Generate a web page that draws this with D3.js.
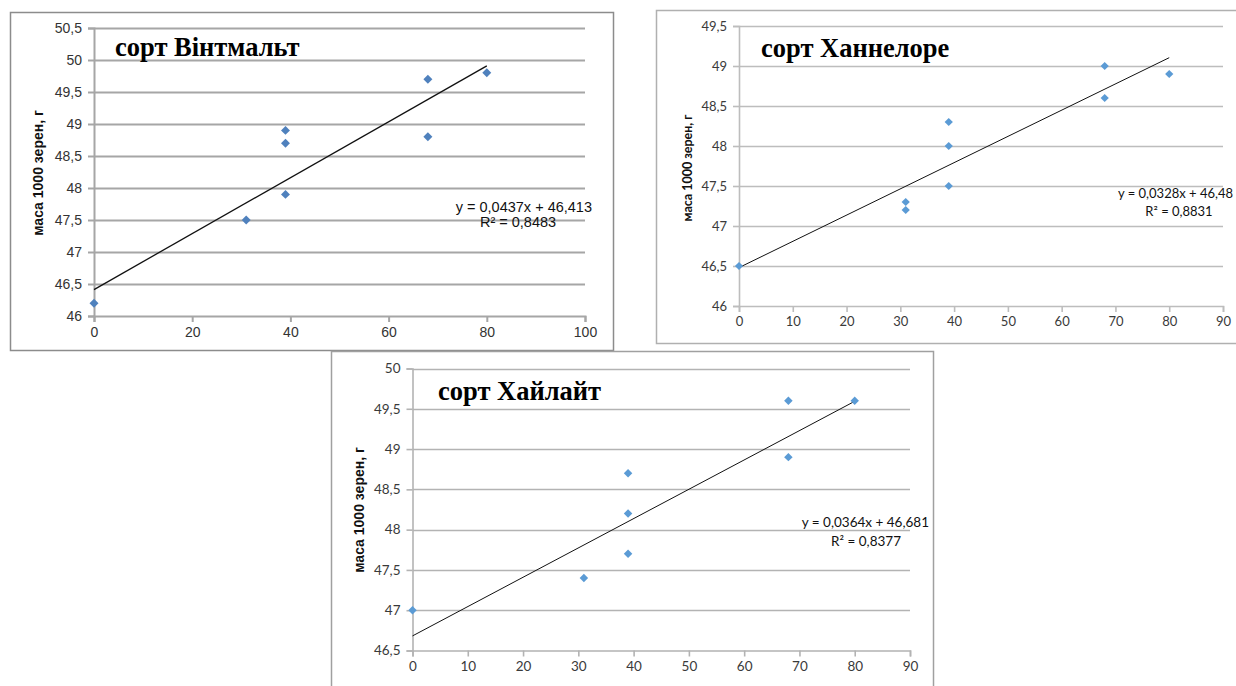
<!DOCTYPE html>
<html>
<head>
<meta charset="utf-8">
<script src="https://cdn.jsdelivr.net/npm/d3@7"></script>
<style>
  html, body { margin: 0; padding: 0; background: #fff; overflow: hidden; }
  svg { display: block; }
</style>
</head>
<body>
<svg id="chart" width="1236" height="686"></svg>
<script>
// ---- Data ----
const titles = ["сорт Вінтмальт", "сорт Ханнелоре", "сорт Хайлайт"];
const yAxisLabel = "маса 1000 зерен, г";

const xValues1 = [0, 31, 39, 39, 39, 68, 68, 80];
const yValues1 = [46.2, 47.5, 48.9, 48.7, 47.9, 49.7, 48.8, 49.8];
const xValues2 = [0, 31, 31, 39, 39, 39, 68, 68, 80];
const yValues2 = [46.5, 47.3, 47.2, 48.3, 48.0, 47.5, 49.0, 48.6, 48.9];
const xValues3 = [0, 31, 39, 39, 39, 68, 68, 80];
const yValues3 = [47.0, 47.4, 48.7, 48.2, 47.7, 49.6, 48.9, 49.6];

const trendSlopes = [0.0437, 0.0328, 0.0364];
const trendIntercepts = [46.413, 46.48, 46.681];
const trendRange = [0, 80];
const equationLabels = ["y = 0,0437x + 46,413", "y = 0,0328x + 46,48", "y = 0,0364x + 46,681"];
const r2Labels = ["R² = 0,8483", "R² = 0,8831", "R² = 0,8377"];

const xTicks1 = [0, 20, 40, 60, 80, 100];
const yTicks1 = [46, 46.5, 47, 47.5, 48, 48.5, 49, 49.5, 50, 50.5];
const xTicks2 = [0, 10, 20, 30, 40, 50, 60, 70, 80, 90];
const yTicks2 = [46, 46.5, 47, 47.5, 48, 48.5, 49, 49.5];
const xTicks3 = [0, 10, 20, 30, 40, 50, 60, 70, 80, 90];
const yTicks3 = [46.5, 47, 47.5, 48, 48.5, 49, 49.5, 50];

// ---- Layout / style ----
const panels = [
  { xs: xValues1, ys: yValues1, xTicks: xTicks1, yTicks: yTicks1,
    frame: [10, 12, 613, 350], px: [94, 585], py: [316, 28],
    font: "'Liberation Sans', Arial, sans-serif", tickSize: 14, tickColor: "#333",
    gridColor: "#a6a6a6", gridWidth: 2, frameColor: "#8c8c8c",
    marker: "#4f81bd", markerArea: 40, trendWidth: 1.3,
    titleX: 115, titleY: 56, titleSize: 26.5,
    labelX: 38, labelY: 173, labelFont: "'Liberation Sans', Arial, sans-serif", labelSize: 14,
    eqX: 592, eqY: 212, r2X: 518, r2Y: 227, eqSize: 14.5 },
  { xs: xValues2, ys: yValues2, xTicks: xTicks2, yTicks: yTicks2,
    frame: [656, 10, 1245, 343], px: [739, 1223], py: [306, 26],
    font: "Lato, 'Open Sans', sans-serif", tickSize: 13, tickColor: "#3a3a3a",
    gridColor: "#bdbdbd", gridWidth: 1.6, frameColor: "#b0b0b0",
    marker: "#5b9bd5", markerArea: 34, trendWidth: 1,
    titleX: 761, titleY: 57, titleSize: 26.5,
    labelX: 687, labelY: 168, labelFont: "Lato, 'Open Sans', sans-serif", labelSize: 12.5,
    eqX: 1233, eqY: 198, r2X: 1179, r2Y: 216, eqSize: 13 },
  { xs: xValues3, ys: yValues3, xTicks: xTicks3, yTicks: yTicks3,
    frame: [331, 351, 933, 700], px: [412.5, 910], py: [650.5, 368.5],
    font: "Lato, 'Open Sans', sans-serif", tickSize: 13.5, tickColor: "#3a3a3a",
    gridColor: "#b3b3b3", gridWidth: 1.6, frameColor: "#a0a0a0",
    marker: "#5b9bd5", markerArea: 36, trendWidth: 1,
    titleX: 438, titleY: 400, titleSize: 26.5,
    labelX: 359, labelY: 510, labelFont: "'Liberation Sans', Arial, sans-serif", labelSize: 14,
    eqX: 929, eqY: 527, r2X: 866, r2Y: 546, eqSize: 13.5 }
];

const svg = d3.select("#chart");
const fmt = d => String(d).replace(".", ",");

panels.forEach((p, i) => {
  const g = svg.append("g");
  const [fx0, fy0, fx1, fy1] = p.frame;
  g.append("rect")
    .attr("x", fx0 + 0.5).attr("y", fy0 + 0.5)
    .attr("width", fx1 - fx0).attr("height", fy1 - fy0)
    .attr("fill", "#fff").attr("stroke", p.frameColor).attr("stroke-width", 1.5);

  const x = d3.scaleLinear().domain(d3.extent(p.xTicks)).range(p.px);
  const y = d3.scaleLinear().domain(d3.extent(p.yTicks)).range(p.py);

  // gridlines
  g.append("g").selectAll("line").data(p.yTicks.slice(1)).join("line")
    .attr("x1", p.px[0]).attr("x2", p.px[1])
    .attr("y1", d => Math.round(y(d)) + 0.5).attr("y2", d => Math.round(y(d)) + 0.5)
    .attr("stroke", p.gridColor).attr("stroke-width", p.gridWidth);

  // y axis
  const yAxis = g.append("g").attr("transform", `translate(${p.px[0]},0)`)
    .call(d3.axisLeft(y).tickValues(p.yTicks).tickFormat(fmt).tickSize(6).tickPadding(6));
  // x axis
  const xAxis = g.append("g").attr("transform", `translate(0,${p.py[0]})`)
    .call(d3.axisBottom(x).tickValues(p.xTicks).tickFormat(fmt).tickSize(6).tickPadding(5));
  [yAxis, xAxis].forEach(a => {
    a.select(".domain").attr("stroke", p.gridColor).attr("stroke-width", p.gridWidth);
    a.selectAll(".tick line").attr("stroke", p.gridColor).attr("stroke-width", p.gridWidth);
    a.selectAll(".tick text").attr("fill", p.tickColor)
      .style("font-family", p.font).style("font-size", p.tickSize + "px");
  });

  // trendline
  const tr = trendRange.map(v => [v, trendSlopes[i] * v + trendIntercepts[i]]);
  g.append("path").datum(tr)
    .attr("d", d3.line().x(d => x(d[0])).y(d => y(d[1])))
    .attr("stroke", "#111").attr("stroke-width", p.trendWidth).attr("fill", "none");

  // markers
  const pts = p.xs.map((v, k) => [v, p.ys[k]]);
  g.append("g").selectAll("path").data(pts).join("path")
    .attr("d", d3.symbol(d3.symbolSquare, p.markerArea))
    .attr("transform", d => `translate(${x(d[0])},${y(d[1])}) rotate(45)`)
    .attr("fill", p.marker);

  // title
  g.append("text").attr("x", p.titleX).attr("y", p.titleY)
    .text(titles[i])
    .style("font-family", "'Liberation Serif', 'Times New Roman', serif")
    .style("font-weight", "bold").style("font-size", p.titleSize + "px").attr("fill", "#000");

  // y axis label
  g.append("text")
    .attr("transform", `translate(${p.labelX},${p.labelY}) rotate(-90)`)
    .attr("text-anchor", "middle").attr("dominant-baseline", "central")
    .text(yAxisLabel)
    .style("font-family", p.labelFont).style("font-weight", "bold")
    .style("font-size", p.labelSize + "px").attr("fill", "#111");

  // equation
  g.append("text").attr("x", p.eqX).attr("y", p.eqY).attr("text-anchor", "end")
    .text(equationLabels[i])
    .style("font-family", p.font).style("font-size", p.eqSize + "px").attr("fill", "#111");
  g.append("text").attr("x", p.r2X).attr("y", p.r2Y).attr("text-anchor", "middle")
    .text(r2Labels[i])
    .style("font-family", p.font).style("font-size", p.eqSize + "px").attr("fill", "#111");
});
</script>
</body>
</html>
